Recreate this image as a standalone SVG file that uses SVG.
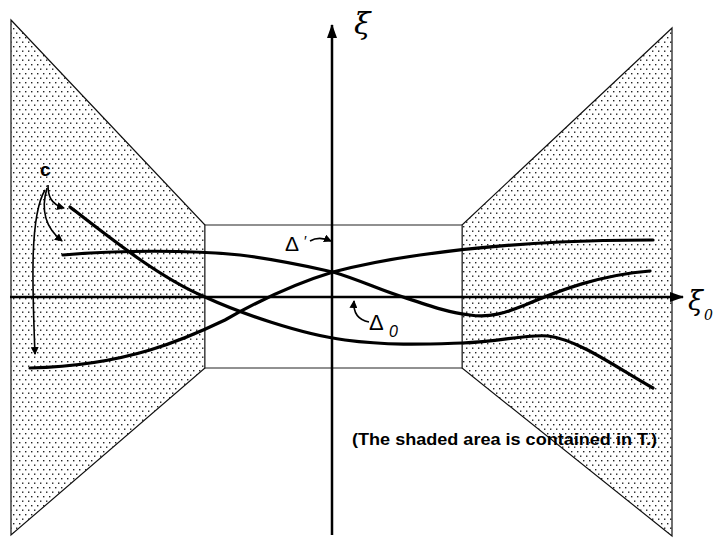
<svg xmlns="http://www.w3.org/2000/svg" width="713" height="538" viewBox="0 0 713 538">
<style>
.shade{fill:url(#dots);stroke:#111;stroke-width:1.2}
.box{fill:#fff;stroke:#222;stroke-width:1}
.axis{stroke:#000;stroke-width:2.5;fill:none}
.curve{stroke:#000;stroke-width:3.2;fill:none;stroke-linecap:round}
.ptr{stroke:#000;stroke-width:1.6;fill:none;marker-end:url(#ah)}
.lbl{font-family:"Liberation Sans",Arial,sans-serif;fill:#000}
.greek{font-family:"DejaVu Serif","Liberation Serif",serif;font-style:italic;fill:#000}
</style>
<defs>
<pattern id="dots" width="6" height="9" patternUnits="userSpaceOnUse">
<rect width="6" height="9" fill="#fff"/>
<rect x="1" y="1" width="1.4" height="1.4" fill="#222"/>
<rect x="4" y="5.5" width="1.4" height="1.4" fill="#222"/>
</pattern>
<marker id="ah" markerWidth="8" markerHeight="8" refX="7" refY="4" orient="auto" markerUnits="userSpaceOnUse">
<path d="M0,0 L8,4 L0,8 Z" fill="#000"/>
</marker>
<marker id="big" markerWidth="14" markerHeight="10" refX="13" refY="5" orient="auto" markerUnits="userSpaceOnUse">
<path d="M0,0 L14,5 L0,10 Z" fill="#000"/>
</marker>
</defs>
<g id="region-left"><polygon class="shade" points="11,20 205,225 205,368 11,535"/></g>
<g id="region-right"><polygon class="shade" points="672,28 462,225 462,368 672,536"/></g>
<g id="region-center"><rect class="box" x="205" y="225" width="257" height="143"/></g>
<g id="axes">
<line class="axis" x1="10" y1="297" x2="683" y2="297" marker-end="url(#big)"/>
<line class="axis" x1="332" y1="535" x2="332" y2="25" marker-end="url(#big)"/>
</g>
<g id="curves">
<path class="curve" d="M70,207 C110,238 160,278 205,297 C240,313 300,334 345,340 C390,346 430,344 462,343 C500,342 525,334 548,336 C580,340 620,370 653,388"/>
<path class="curve" d="M63,255 C120,250 190,250 240,255 C280,260 310,267 333,272 C360,280 380,290 400,296 C430,306 450,313 470,315 C490,318 505,313 525,305 C560,290 600,275 650,271"/>
<path class="curve" d="M30,368 C70,367 110,362 150,350 C180,341 200,332 225,320 C260,300 300,282 333,272 C360,265 385,260 420,255 C470,248 520,244 560,242 C600,240 630,240 653,240"/>
</g>
<g id="connectors">
<path class="ptr" d="M48,185 C48,195 50,204 64,208"/>
<path class="ptr" d="M47,188 C42,205 42,225 62,241"/>
<path class="ptr" d="M45,190 C30,215 32,280 35,354"/>
<path class="ptr" d="M310,241 C317,237 324,238 331,241"/>
<path class="ptr" d="M369,322 C359,320 353,313 354,301"/>
</g>
<g id="labels">
<text class="lbl" x="40" y="176" font-size="19" font-weight="bold">c</text>
<text class="greek" x="354" y="34" font-size="30">ξ</text>
<text class="greek" x="688" y="310" font-size="27">ξ</text>
<text class="greek" x="704" y="320" font-size="14">0</text>
<text class="lbl" x="285" y="251" font-size="21">Δ</text>
<text class="lbl" x="304" y="246" font-size="15">′</text>
<text class="lbl" x="369" y="330" font-size="22">Δ</text>
<text class="lbl" x="389" y="337" font-size="16" font-style="italic">0</text>
<text class="lbl" x="352" y="445" font-size="16" font-weight="bold" textLength="305" lengthAdjust="spacingAndGlyphs">(The shaded area is contained in T.)</text>
</g>
</svg>
